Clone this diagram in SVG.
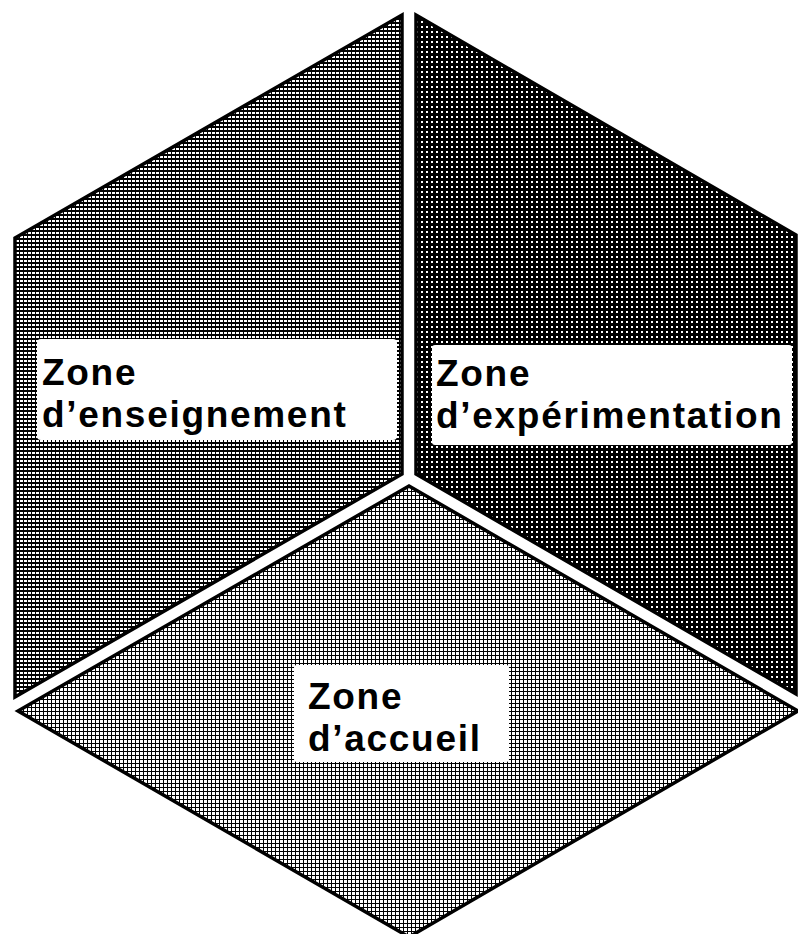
<svg xmlns="http://www.w3.org/2000/svg" width="798" height="934" viewBox="0 0 798 934">
<style>
.zone{stroke:#000;stroke-width:3.5;stroke-linejoin:miter}
.box{fill:#fff;stroke:none}
.lbl{font-family:"Liberation Sans",Arial,Helvetica,sans-serif;font-weight:bold;font-size:37px;letter-spacing:1.7px;fill:#000}
</style>
<defs>
<pattern id="pL" width="4" height="4" patternUnits="userSpaceOnUse">
<rect width="4" height="4" fill="#000"/>
<rect x="0" y="0" width="3" height="2" fill="#fff"/>
</pattern>
<pattern id="pR" width="5" height="5" patternUnits="userSpaceOnUse">
<rect width="5" height="5" fill="#000"/>
<rect x="1" y="1" width="2" height="2" fill="#fff"/>
</pattern>
<pattern id="pB" width="4" height="4" patternUnits="userSpaceOnUse">
<rect width="4" height="4" fill="#000"/>
<rect x="0" y="0" width="3" height="3" fill="#fff"/>
</pattern>
</defs>
<rect width="798" height="934" fill="#fff"/>
<g id="zone-enseignement">
<polygon class="zone" fill="url(#pL)" points="402,15 15,238 15,697 402,474"/>
<rect class="box" x="37" y="339" width="360" height="101" rx="4"/>
<text class="lbl" x="42" y="385">Zone</text>
<text class="lbl" x="42" y="427">d’enseignement</text>
</g>
<g id="zone-experimentation">
<polygon class="zone" fill="url(#pR)" points="416,15 796,235 796,694 416,474"/>
<rect class="box" x="432" y="345" width="360" height="100" rx="3"/>
<text class="lbl" x="436" y="386">Zone</text>
<text class="lbl" x="436" y="428">d’expérimentation</text>
</g>
<g id="zone-accueil">
<polygon class="zone" fill="url(#pB)" points="409,486 18,711 409,937 798,711"/>
<rect class="box" x="294" y="665" width="215" height="97" rx="3"/>
<text class="lbl" x="308" y="709">Zone</text>
<text class="lbl" x="308" y="751">d’accueil</text>
</g>
<g id="connectors"/>
</svg>
